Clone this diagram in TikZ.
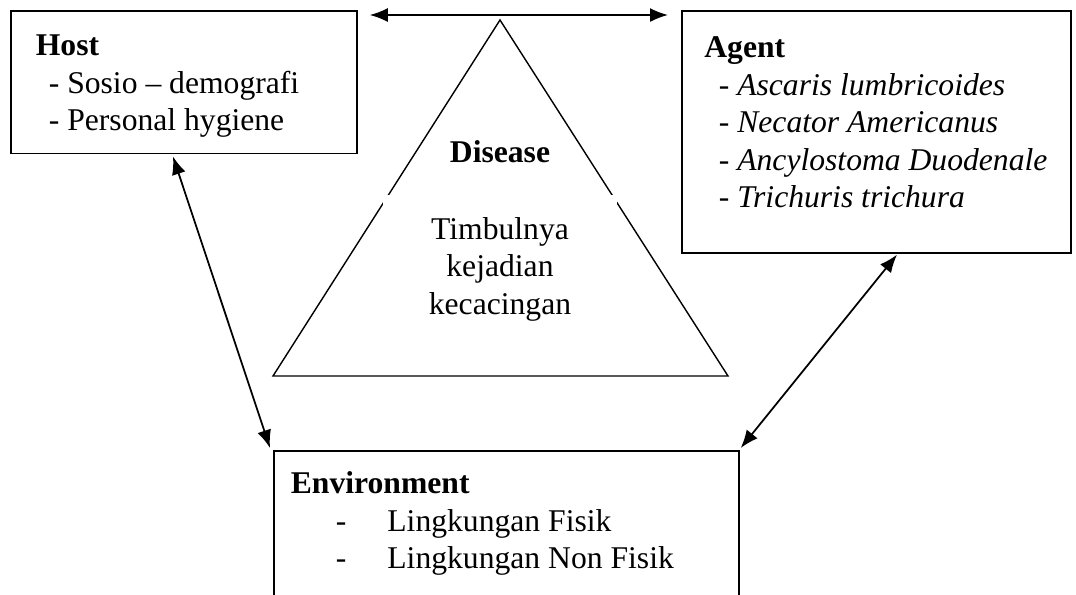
\documentclass[tikz,border=0pt]{standalone}
\usepackage{fontspec}
\setmainfont{Liberation Serif}
\usetikzlibrary{positioning,arrows.meta}

\begin{document}
\begin{tikzpicture}[
    box/.style={draw, line width=1pt, align=flush left, anchor=north west,
      font=\fontsize{18}{21.3}\selectfont, inner sep=0.4cm},
    label/.style={align=center, font=\fontsize{18}{21.3}\selectfont},
    arrow/.style={{Latex[length=3.6mm,width=2.8mm]}-{Latex[length=3.6mm,width=2.8mm]}, line width=1pt}
  ]
    \useasboundingbox (0,0) rectangle (21.52,-11.88);

    % triangle
    \coordinate (apex) at (10,-0.4);
    \coordinate (baseL) at (5.46,-7.52);
    \coordinate (baseR) at (14.56,-7.52);
    \draw[line width=0.8pt] (apex) -- (baseL) -- (baseR) -- cycle;

    \node[label, font=\bfseries\fontsize{18}{21.3}\selectfont] (disease) at (10,-3.04) {Disease};
    \node[label, fill=white, text width=3.8cm, inner sep=0.44cm, anchor=north] (timbul) at (10,-3.9) {
      Timbulnya\\
      kejadian\\
      kecacingan
    };

    \node[box, inner xsep=0.5cm, inner ysep=0.48cm, text width=5.92cm, text depth=1.48cm] (host) at (0.2,-0.2) {
      \textbf{Host}\\
      \hspace*{0.26cm}- Sosio -- demografi\\
      \hspace*{0.26cm}- Personal hygiene
    };

    \node[box, inner xsep=0.29cm, inner ysep=0.52cm, text width=7.2cm, text depth=3.38cm] (agent) at (13.62,-0.2) {
      \hspace*{0.16cm}\textbf{Agent}\\
      \hspace*{0.45cm}- \textit{Ascaris lumbricoides}\\
      \hspace*{0.45cm}- \textit{Necator Americanus}\\
      \hspace*{0.45cm}- \textit{Ancylostoma Duodenale}\\
      \hspace*{0.45cm}- \textit{Trichuris trichura}
    };

    \node[box, inner xsep=0.34cm, inner ysep=0.42cm, text width=8.62cm, text depth=3cm] (env) at (5.46,-9.0) {
      \textbf{Environment}\\
      \hspace*{0.9cm}-\hspace*{0.82cm}Lingkungan Fisik\\
      \hspace*{0.9cm}-\hspace*{0.82cm}Lingkungan Non Fisik
    };

    \draw[arrow] ([xshift=0.24cm,yshift=-0.1cm]host.north east) -- ([xshift=-0.26cm,yshift=-0.1cm]agent.north west);
    \draw[arrow] ([xshift=3.26cm,yshift=-0.04cm]host.south west) -- ([xshift=-0.06cm,yshift=0.04cm]env.north west);
    \draw[arrow] ([xshift=4.32cm,yshift=-0.02cm]agent.south west) -- ([xshift=0.02cm,yshift=0.04cm]env.north east);
  \end{tikzpicture}
\end{document}
